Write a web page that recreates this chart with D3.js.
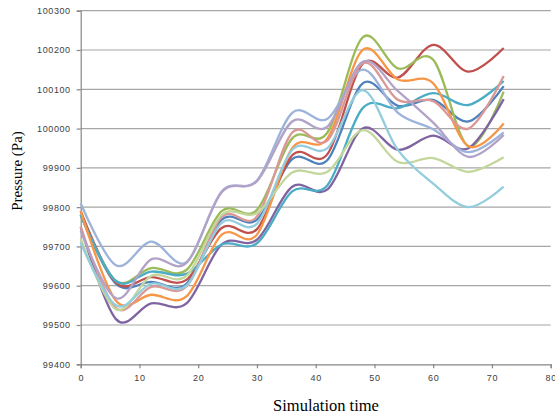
<!DOCTYPE html>
<html lang="en">
<head>
<meta charset="UTF-8">
<title>Pressure vs simulation time</title>
<script src="https://d3js.org/d3.v7.min.js"></script>
<style>
  body { margin: 0; background: #fff; }
</style>
</head>
<body>
<svg id="chart" width="555" height="416"></svg>
<script>
    // time points (every 6 units)
    const times = [0, 6, 12, 18, 24, 30, 36, 42, 48, 54, 60, 66, 72];

    const seriesNames = ["blue", "red", "green", "purple", "teal", "orange", "lightBlue", "pink", "lightGreen", "lightPurple", "lightTeal"];
    const seriesColors = ["#4F81BD", "#C0504D", "#9BBB59", "#8064A2", "#4BACC6", "#F79646", "#9DB3DA", "#DA9896", "#C3D69B", "#B3A2C7", "#93CDDD"];

    const blue = [99780, 99605, 99610, 99605, 99768, 99768, 99922, 99920, 100115, 100058, 100073, 100018, 100108];
    const red = [99790, 99608, 99622, 99615, 99747, 99744, 99932, 99935, 100165, 100130, 100213, 100145, 100205];
    const green = [99780, 99612, 99645, 99640, 99790, 99793, 99975, 99990, 100232, 100153, 100175, 99955, 100094];
    const purple = [99750, 99515, 99555, 99555, 99705, 99717, 99852, 99845, 100000, 99946, 99982, 99950, 100075];
    const teal = [99780, 99612, 99636, 99630, 99705, 99708, 99840, 99856, 100052, 100052, 100090, 100060, 100121];
    const orange = [99790, 99562, 99577, 99573, 99730, 99730, 99950, 99975, 100200, 100125, 100115, 99955, 100013];
    const lightBlue = [99810, 99652, 99712, 99660, 99840, 99868, 100040, 100025, 100150, 100040, 99998, 99940, 99990];
    const pink = [99750, 99543, 99597, 99598, 99775, 99776, 99990, 99970, 100166, 100073, 100070, 100000, 100134];
    const lightGreen = [99720, 99540, 99625, 99625, 99780, 99785, 99888, 99890, 99996, 99915, 99925, 99890, 99927];
    const lightPurple = [99740, 99568, 99667, 99658, 99838, 99866, 100018, 100005, 100170, 100095, 100015, 99928, 99984];
    const lightTeal = [99710, 99550, 99605, 99600, 99760, 99758, 99946, 99950, 100098, 99945, 99860, 99800, 99852];

    const allSeries = [blue, red, green, purple, teal, orange, lightBlue, pink, lightGreen, lightPurple, lightTeal];

    const xTicks = [0, 10, 20, 30, 40, 50, 60, 70, 80];
    const yTicks = [99400, 99500, 99600, 99700, 99800, 99900, 100000, 100100, 100200, 100300];

    const margin = { top: 10.7, right: 4.3, bottom: 51.7, left: 80.7 };
    const width = 555, height = 416;

    const svg = d3.select("#chart");

    const xScale = d3.scaleLinear().domain([0, 80]).range([margin.left, width - margin.right]);
    const yScale = d3.scaleLinear().domain([99400, 100300]).range([height - margin.bottom, margin.top]);

    // gridlines
    svg.append("g")
        .selectAll("line")
        .data(yTicks.slice(1))
        .enter().append("line")
        .attr("x1", xScale(0))
        .attr("x2", xScale(80))
        .attr("y1", d => yScale(d))
        .attr("y2", d => yScale(d))
        .attr("stroke", "#A6A6A6")
        .attr("stroke-width", 1.2);

    // y axis
    const yAxis = svg.append("g")
        .attr("transform", `translate(${xScale(0)},0)`)
        .call(d3.axisLeft(yScale).tickValues(yTicks).tickSize(4).tickPadding(6).tickFormat(d3.format("d")));
    // x axis
    const xAxis = svg.append("g")
        .attr("transform", `translate(0,${yScale(99400)})`)
        .call(d3.axisBottom(xScale).tickValues(xTicks).tickSize(4).tickPadding(6));

    [yAxis, xAxis].forEach(ax => {
        ax.select(".domain").attr("stroke", "#868686").attr("stroke-width", 1.2);
        ax.selectAll(".tick line").attr("stroke", "#868686").attr("stroke-width", 1.2);
        ax.selectAll(".tick text")
            .attr("fill", "#404040")
            .style("font-family", "'Liberation Sans', Arial, sans-serif")
            .style("font-size", "9px")
            .style("letter-spacing", "0.6px");
    });

    // smoothed lines (Excel-like)
    const line = d3.line()
        .x((d, i) => xScale(times[i]))
        .y(d => yScale(d))
        .curve(d3.curveCardinal.tension(0));

    allSeries.forEach((vals, i) => {
        svg.append("path")
            .datum(vals)
            .attr("fill", "none")
            .attr("stroke", seriesColors[i])
            .attr("stroke-width", 2.3)
            .attr("stroke-linejoin", "round")
            .attr("d", line);
    });

    // axis titles
    svg.append("text")
        .attr("transform", "translate(21.5,171) rotate(-90)")
        .attr("text-anchor", "middle")
        .style("font-family", "'Liberation Serif', 'Times New Roman', serif")
        .style("font-size", "15px")
        .attr("fill", "#000")
        .text("Pressure (Pa)");

    svg.append("text")
        .attr("x", 326)
        .attr("y", 411)
        .attr("text-anchor", "middle")
        .style("font-family", "'Liberation Serif', 'Times New Roman', serif")
        .style("font-size", "16.5px")
        .attr("fill", "#000")
        .text("Simulation time");
</script>
</body>
</html>
